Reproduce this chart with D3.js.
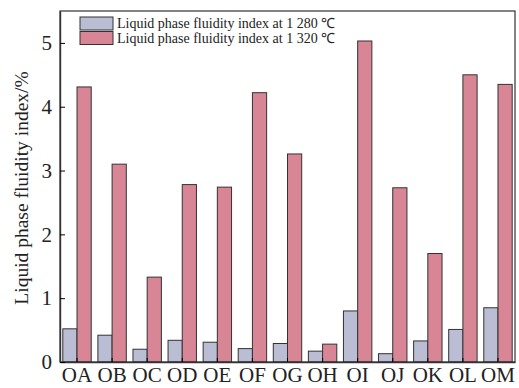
<!DOCTYPE html>
<html>
<head>
<meta charset="utf-8">
<script src="https://cdn.jsdelivr.net/npm/d3@7"></script>
<style>
  body { margin: 0; background: #fff; }
  text { font-family: "Liberation Serif", "Times New Roman", serif; fill: #222; }
</style>
</head>
<body>
<script>
// Chart data
var categories = ['OA', 'OB', 'OC', 'OD', 'OE', 'OF', 'OG', 'OH', 'OI', 'OJ', 'OK', 'OL', 'OM'];
var values1280 = [0.52, 0.42, 0.20, 0.34, 0.31, 0.21, 0.29, 0.17, 0.80, 0.13, 0.33, 0.51, 0.85];
var values1320 = [4.31, 3.10, 1.33, 2.78, 2.74, 4.22, 3.26, 0.28, 5.03, 2.73, 1.70, 4.50, 4.35];
var seriesNames = ['Liquid phase fluidity index at 1 280 \u2103', 'Liquid phase fluidity index at 1 320 \u2103'];
var yTicks = [0, 1, 2, 3, 4, 5];

var width = 519, height = 388;
var margin = {top: 11, right: 4, bottom: 26, left: 60};
var colors = ['#babdd3', '#d88695'];

var svg = d3.select('body').append('svg')
  .attr('width', width)
  .attr('height', height);

var x = d3.scaleBand()
  .domain(categories)
  .range([margin.left, width - margin.right])
  .paddingInner(0.19)
  .paddingOuter(0.08);

var xSub = d3.scaleBand()
  .domain([0, 1])
  .range([0, x.bandwidth()]);

var y = d3.scaleLinear()
  .domain([0, 5.5])
  .range([height - margin.bottom, margin.top]);

var rows = categories.map(function(c, i) {
  return {cat: c, vals: [values1280[i], values1320[i]]};
});

// bars
var groups = svg.selectAll('g.cat')
  .data(rows)
  .enter().append('g')
  .attr('class', 'cat')
  .attr('transform', function(d) { return 'translate(' + x(d.cat) + ',0)'; });

groups.selectAll('rect')
  .data(function(d) { return d.vals; })
  .enter().append('rect')
  .attr('x', function(d, i) { return xSub(i); })
  .attr('width', xSub.bandwidth())
  .attr('y', function(d) { return y(d); })
  .attr('height', function(d) { return y(0) - y(d); })
  .style('fill', function(d, i) { return colors[i]; })
  .style('stroke', '#333')
  .style('stroke-width', 1);

// frame
svg.append('rect')
  .attr('x', margin.left)
  .attr('y', margin.top)
  .attr('width', width - margin.left - margin.right)
  .attr('height', height - margin.top - margin.bottom)
  .style('fill', 'none')
  .style('stroke', '#333')
  .style('stroke-width', 1.2);

// axes with inward ticks
var xAxis = svg.append('g')
  .attr('transform', 'translate(0,' + (height - margin.bottom) + ')')
  .call(d3.axisBottom(x).tickSizeInner(-4).tickSizeOuter(0));
xAxis.select('.domain').style('stroke', '#333').style('stroke-width', 1.4);
xAxis.selectAll('text').style('font-size', '21px').attr('dy', '0').attr('y', 20);

var yAxis = svg.append('g')
  .attr('transform', 'translate(' + margin.left + ',0)')
  .call(d3.axisLeft(y).tickValues(yTicks).tickFormat(d3.format('d'))
    .tickSizeInner(-5).tickSizeOuter(0).tickPadding(8));
yAxis.select('.domain').style('stroke', '#333').style('stroke-width', 1.4);
yAxis.selectAll('text').style('font-size', '21px');

// y axis title
svg.append('text')
  .attr('transform', 'translate(28,188) rotate(-90)')
  .attr('text-anchor', 'middle')
  .style('font-size', '19.5px')
  .text('Liquid phase fluidity index/%');

// legend
var legend = svg.append('g').attr('transform', 'translate(80,17)');
seriesNames.forEach(function(name, i) {
  var row = legend.append('g').attr('transform', 'translate(0,' + (i * 14.5) + ')');
  row.append('rect')
    .attr('width', 33)
    .attr('height', 13)
    .style('fill', colors[i])
    .style('stroke', '#333')
    .style('stroke-width', 1);
  row.append('text')
    .attr('x', 37)
    .attr('y', 11)
    .style('font-size', '14px')
    .text(name);
});
</script>
</body>
</html>
